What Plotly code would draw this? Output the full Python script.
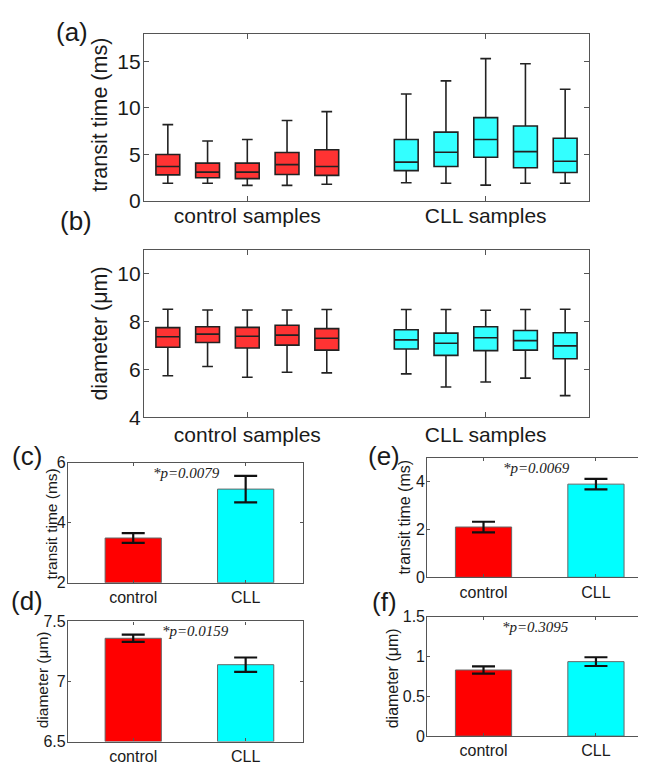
import plotly.graph_objects as go

# The page body keeps the browser's default 8px margin, so the figure is
# sized to fill the 646x773 window exactly inside that margin.
PAGE_W, PAGE_H = 646, 773
OFF = 8
W, H = PAGE_W - 2 * OFF, PAGE_H - 2 * OFF

# ---------------- data ----------------
# Panel (a): transit time (ms) box statistics, 5 control + 5 CLL samples
a_ctrl_pos = [1, 2, 3, 4, 5]
a_ctrl_low = [1.9, 1.9, 1.67, 1.67, 1.8]
a_ctrl_q1 = [2.8, 2.5, 2.4, 2.85, 2.75]
a_ctrl_med = [3.7, 3.1, 3.1, 3.9, 3.7]
a_ctrl_q3 = [5.0, 4.06, 4.06, 5.2, 5.5]
a_ctrl_high = [8.2, 6.45, 6.6, 8.65, 9.6]

a_cll_pos = [7, 8, 9, 10, 11]
a_cll_low = [1.95, 1.9, 1.7, 1.9, 1.9]
a_cll_q1 = [3.26, 3.7, 4.7, 3.57, 3.05]
a_cll_med = [4.17, 5.24, 6.6, 5.3, 4.27]
a_cll_q3 = [6.6, 7.4, 8.96, 8.05, 6.74]
a_cll_high = [11.5, 12.9, 15.3, 14.75, 12.0]

# Panel (b): diameter (um) box statistics
b_ctrl_low = [5.73, 6.12, 5.67, 5.88, 5.85]
b_ctrl_q1 = [6.92, 7.12, 6.89, 7.01, 6.8]
b_ctrl_med = [7.36, 7.47, 7.38, 7.43, 7.3]
b_ctrl_q3 = [7.74, 7.78, 7.75, 7.84, 7.7]
b_ctrl_high = [8.51, 8.48, 8.48, 8.48, 8.5]

b_cll_low = [5.81, 5.26, 5.47, 5.63, 4.9]
b_cll_q1 = [6.85, 6.58, 6.78, 6.8, 6.44]
b_cll_med = [7.23, 7.09, 7.32, 7.2, 6.98]
b_cll_q3 = [7.65, 7.51, 7.78, 7.62, 7.53]
b_cll_high = [8.5, 8.5, 8.47, 8.5, 8.51]

group_tickvals = [3, 9]
group_ticktext = ["control samples", "CLL samples"]

# Panels (c)-(f): mean +/- error bars
bar_cats = [1, 2]
bar_labels = ["control", "CLL"]
c_vals = [3.49, 5.12]
c_err = [0.16, 0.44]
d_vals = [7.36, 7.14]
d_err = [0.03, 0.06]
e_vals = [2.1, 3.89]
e_err = [0.22, 0.22]
f_vals = [0.83, 0.935]
f_err = [0.045, 0.055]

p_texts = ["*p=0.0079", "*p=0.0159", "*p=0.0069", "*p=0.3095"]

# ---------------- styling ----------------
SANS = "Liberation Sans, Arial, sans-serif"
SERIF = "Liberation Serif, Times New Roman, serif"
AX_COL = "#555555"
TXT_COL = "#1a1a1a"
RED_BOX = "#ff3333"
CYAN_BOX = "#33ffff"
RED_BAR = "#ff0000"
CYAN_BAR = "#00ffff"


def fx(px):
    return min(max((px - OFF) / W, 0.0), 1.0)


def fy(py):
    return min(max(1 - (py - OFF) / H, 0.0), 1.0)


def px_x(x0, x1):
    return [fx(x0), fx(x1)]


def px_y(y0, y1):
    return [fy(y1), fy(y0)]


fig = go.Figure()


def add_boxes(xa, ya, pos, low, q1, med, q3, high, color):
    fig.add_trace(go.Box(
        x=pos, lowerfence=low, q1=q1, median=med, q3=q3, upperfence=high,
        fillcolor=color, line=dict(color="#222222", width=1.6),
        whiskerwidth=0.45, width=0.6, boxpoints=False,
        xaxis=xa, yaxis=ya, showlegend=False, hoverinfo="skip"))


add_boxes("x", "y", a_ctrl_pos, a_ctrl_low, a_ctrl_q1, a_ctrl_med, a_ctrl_q3, a_ctrl_high, RED_BOX)
add_boxes("x", "y", a_cll_pos, a_cll_low, a_cll_q1, a_cll_med, a_cll_q3, a_cll_high, CYAN_BOX)
add_boxes("x2", "y2", a_ctrl_pos, b_ctrl_low, b_ctrl_q1, b_ctrl_med, b_ctrl_q3, b_ctrl_high, RED_BOX)
add_boxes("x2", "y2", a_cll_pos, b_cll_low, b_cll_q1, b_cll_med, b_cll_q3, b_cll_high, CYAN_BOX)


def add_bars(xa, ya, vals, errs, base):
    fig.add_trace(go.Bar(
        x=bar_cats, y=[v - base for v in vals], base=base, width=0.5,
        marker=dict(color=[RED_BAR, CYAN_BAR], line=dict(color="#666666", width=1)),
        error_y=dict(type="data", array=errs, color="#111111", thickness=2.2, width=11.5),
        xaxis=xa, yaxis=ya, showlegend=False, hoverinfo="skip"))


add_bars("x3", "y3", c_vals, c_err, 2)
add_bars("x4", "y4", d_vals, d_err, 6.5)
add_bars("x5", "y5", e_vals, e_err, 0)
add_bars("x6", "y6", f_vals, f_err, 0)

common = dict(showline=True, linecolor=AX_COL, linewidth=1.2, ticks="inside",
              tickcolor=AX_COL, showgrid=False, zeroline=False,
              fixedrange=True)

big_tick = dict(family=SANS, size=21, color=TXT_COL)
small_tick = dict(family=SANS, size=16, color=TXT_COL)

# right-hand panels run off the right edge of the picture
ef_right = 2 + (PAGE_W - OFF - 596) / 112.3

layout = dict(
    width=W, height=H, autosize=False,
    margin=dict(l=0, r=0, t=0, b=0),
    paper_bgcolor="white", plot_bgcolor="white",
    boxmode="overlay", barmode="overlay",
    # panel (a)
    xaxis=dict(domain=px_x(144, 589), range=[0.4, 11.6], tickvals=group_tickvals,
               ticktext=group_ticktext, mirror="ticks", ticklen=5,
               ticklabelstandoff=-4,
               tickfont=big_tick, anchor="y", **common),
    yaxis=dict(domain=px_y(27, 199), range=[0, 17.9], tickvals=[0, 5, 10, 15],
               mirror="ticks", ticklen=5, ticklabelstandoff=-2,
               tickfont=big_tick, anchor="x", **common),
    # panel (b)
    xaxis2=dict(domain=px_x(144, 589), range=[0.4, 11.6], tickvals=group_tickvals,
                ticktext=group_ticktext, mirror="ticks", ticklen=5,
                ticklabelstandoff=-1,
                tickfont=big_tick, anchor="y2", **common),
    yaxis2=dict(domain=px_y(249.3, 422.3), range=[4, 11], tickvals=[4, 6, 8, 10],
                mirror="ticks", ticklen=5, ticklabelstandoff=-2,
                tickfont=big_tick, anchor="x2", **common),
    # panel (c)
    xaxis3=dict(domain=px_x(68, 303), range=[0.42, 2.51], tickvals=bar_cats,
                ticktext=bar_labels, mirror="ticks", ticklen=3,
                tickfont=small_tick, anchor="y3", **common),
    yaxis3=dict(domain=px_y(469.3, 593.3), range=[2, 6], tickvals=[2, 4, 6],
                mirror="ticks", ticklen=3, ticklabelstandoff=-2,
                tickfont=small_tick, anchor="x3", **common),
    # panel (d)
    xaxis4=dict(domain=px_x(68, 303), range=[0.42, 2.51], tickvals=bar_cats,
                ticktext=bar_labels, mirror="ticks", ticklen=3,
                tickfont=small_tick, anchor="y4", **common),
    yaxis4=dict(domain=px_y(633.3, 757.3), range=[6.5, 7.5], tickvals=[6.5, 7, 7.5],
                ticktext=["6.5", "7", "7.5"], mirror="ticks", ticklen=3,
                ticklabelstandoff=-2,
                tickfont=small_tick, anchor="x4", **common),
    # panel (e)
    xaxis5=dict(domain=px_x(427.3, PAGE_W), range=[0.5, ef_right], tickvals=bar_cats,
                ticktext=bar_labels, mirror="ticks", ticklen=3,
                tickfont=small_tick, anchor="y5", **common),
    yaxis5=dict(domain=px_y(464, 587.7), range=[0, 5], tickvals=[0, 2, 4],
                mirror=False, ticklen=3, ticklabelstandoff=-2,
                tickfont=small_tick, anchor="x5", **common),
    # panel (f)
    xaxis6=dict(domain=px_x(427.3, PAGE_W), range=[0.5, ef_right], tickvals=bar_cats,
                ticktext=bar_labels, mirror="ticks", ticklen=3,
                tickfont=small_tick, anchor="y6", **common),
    yaxis6=dict(domain=px_y(628.3, 751.7), range=[0, 1.5], tickvals=[0, 0.5, 1, 1.5],
                ticktext=["0", "0.5", "1", "1.5"], mirror=False, ticklen=3,
                ticklabelstandoff=-2,
                tickfont=small_tick, anchor="x6", **common),
)
fig.update_layout(**layout)


def ann(text, x, y, size, family=SANS, angle=0):
    fig.add_annotation(text=text, x=(x - OFF) / W, y=1 - (y - OFF) / H,
                       xref="paper", yref="paper",
                       showarrow=False, textangle=angle, xanchor="center",
                       yanchor="middle", font=dict(family=family, size=size, color=TXT_COL))


# panel letters
ann("(a)", 72, 25, 26)
ann("(b)", 76, 220, 26)
ann("(c)", 27, 462, 26)
ann("(d)", 27, 612, 26)
ann("(e)", 384, 462, 26)
ann("(f)", 384, 613, 26)

# axis titles
ann("transit time (ms)", 100, 110, 21.5, angle=-90)
ann("diameter (μm)", 100, 336, 21.5, angle=-90)
ann("transit time (ms)", 51, 532, 15.5, angle=-90)
ann("diameter (μm)", 42, 694, 15.5, angle=-90)
ann("transit time (ms)", 405, 526, 16, angle=-90)
ann("diameter (μm)", 392, 692, 16, angle=-90)

# p-values
ann("<i>" + p_texts[0] + "</i>", 186, 480, 15, family=SERIF)
ann("<i>" + p_texts[1] + "</i>", 195, 643, 15, family=SERIF)
ann("<i>" + p_texts[2] + "</i>", 536, 475, 15, family=SERIF)
ann("<i>" + p_texts[3] + "</i>", 535, 639, 15, family=SERIF)

fig.write_html("out.html", config={"displayModeBar": False})
